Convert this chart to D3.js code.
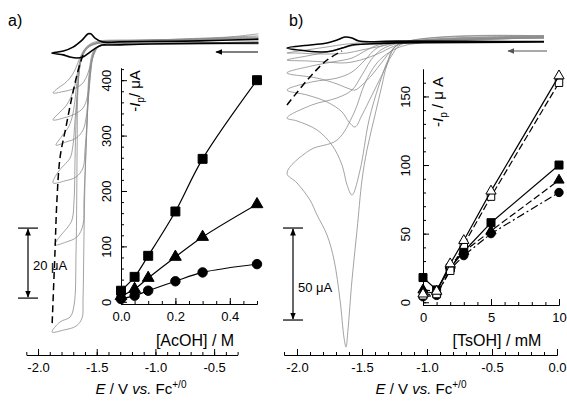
<!DOCTYPE html>
<html>
<head>
<meta charset="utf-8" />
<title>CV of catalyst with AcOH and TsOH</title>
<script src="https://cdnjs.cloudflare.com/ajax/libs/d3/7.8.5/d3.min.js"></script>
<style>
body { margin: 0; padding: 0; background: #fff; }
svg text { font-family: "Liberation Sans", Arial, sans-serif; fill: #000; }
</style>
</head>
<body>
<svg id="chart" width="567" height="414"></svg>
<script>
// E in V vs Fc+/0, I in uA (cathodic = negative, drawn downwards)

// ---- panel a, cyclic voltammograms (blank + AcOH additions)
var aBlankFwd = [[-0.123,0.3],[-1.042,0],[-1.385,-0.3],[-1.452,-0.3],[-1.496,-0.9],[-1.557,-2.3],[-1.618,-3.7],[-1.667,-4],[-1.728,-3.7],[-1.784,-3.1],[-1.883,-2.6]];
var aBlankRev = [[-1.883,-2.6],[-1.784,-2],[-1.702,-0.9],[-1.625,1.1],[-1.573,2.9],[-1.551,2.9],[-1.515,1.7],[-1.452,0.6],[-1.302,0.6],[-0.621,0.9],[-0.123,1.4]];

var aAcidFwd = [
  [[-0.123,0.6],[-0.621,0.3],[-1.302,0],[-1.446,-0.3],[-1.489,-0.9],[-1.515,-2.3],[-1.54,-4.6],[-1.566,-7.4],[-1.591,-9.7],[-1.634,-11.7],[-1.702,-12.9],[-1.787,-13.6],[-1.872,-14]],
  [[-0.123,0.6],[-0.621,0.3],[-1.302,0],[-1.446,-0.3],[-1.498,-1.1],[-1.531,-3.4],[-1.549,-7.4],[-1.566,-11.7],[-1.582,-15.4],[-1.617,-18.3],[-1.685,-20],[-1.778,-21.1],[-1.872,-21.7]],
  [[-0.123,0.3],[-1.302,0],[-1.446,-0.3],[-1.506,-1.4],[-1.54,-4.6],[-1.557,-10.3],[-1.574,-16],[-1.591,-21.1],[-1.617,-24.6],[-1.676,-26.9],[-1.762,-28],[-1.847,-28.9]],
  [[-0.123,0.3],[-1.302,0],[-1.455,-0.3],[-1.515,-1.7],[-1.549,-6],[-1.566,-13.1],[-1.582,-21.7],[-1.6,-30.3],[-1.617,-35.4],[-1.676,-38],[-1.77,-39.1],[-1.872,-39.7]],
  [[-0.123,0.3],[-1.302,0],[-1.464,-0.3],[-1.523,-2.3],[-1.557,-7.4],[-1.574,-16],[-1.591,-30.3],[-1.609,-44.6],[-1.617,-51.7],[-1.667,-55.1],[-1.762,-56.6],[-1.856,-57.4]],
  [[-0.123,0],[-1.302,0],[-1.471,-0.3],[-1.531,-2.3],[-1.566,-8.9],[-1.582,-21.7],[-1.6,-38.9],[-1.609,-56],[-1.617,-73.1],[-1.625,-78.3],[-1.676,-80.6],[-1.778,-81.7],[-1.881,-82.3]]
];
var aAcidRev = [
  [[-1.872,-14],[-1.83,-12.6],[-1.778,-11.4],[-1.727,-9.7],[-1.685,-7.4],[-1.651,-4.6],[-1.609,-1.7],[-1.557,0],[-1.471,0.9],[-1.217,1.1],[-0.62,1.4],[-0.364,2.0],[-0.123,2.9]],
  [[-1.872,-21.7],[-1.821,-19.7],[-1.762,-17.7],[-1.719,-15.1],[-1.685,-11.7],[-1.66,-7.4],[-1.625,-3.1],[-1.574,-0.6],[-1.471,0.6],[-1.046,1.1],[-0.123,2.3]],
  [[-1.847,-28.9],[-1.796,-26.3],[-1.745,-24],[-1.711,-21.1],[-1.685,-16],[-1.667,-10.3],[-1.642,-5.1],[-1.591,-1.1],[-1.471,0.6],[-1.046,1.1],[-0.123,2]],
  [[-1.872,-39.7],[-1.83,-36.6],[-1.778,-34.6],[-1.727,-32.6],[-1.702,-28.9],[-1.685,-21.7],[-1.667,-14.6],[-1.651,-8],[-1.609,-2.3],[-1.515,0],[-1.046,0.9],[-0.123,1.7]],
  [[-1.856,-57.4],[-1.812,-54.9],[-1.753,-52.6],[-1.711,-50.3],[-1.693,-44.6],[-1.685,-33.1],[-1.676,-21.7],[-1.66,-11.7],[-1.625,-4],[-1.557,-0.6],[-1.302,0.6],[-0.123,1.7]],
  [[-1.881,-82.3],[-1.812,-79.4],[-1.727,-78],[-1.693,-74.6],[-1.676,-58.9],[-1.667,-30.3],[-1.66,-13.1],[-1.634,-4.6],[-1.574,-0.9],[-1.387,0.6],[-0.123,1.1]]
];
var aPeakTrace = [[-1.618,-3.1],[-1.662,-8],[-1.711,-15.1],[-1.762,-23.7],[-1.812,-32.3],[-1.839,-44.6],[-1.856,-59.7],[-1.881,-80.9]];

// ---- panel b, cyclic voltammograms (blank + TsOH additions)
var bBlankFwd = [[-0.1,0],[-1.231,-0.5],[-1.462,-1.1],[-1.577,-1.6],[-1.654,-3.3],[-1.731,-4.9],[-1.808,-5.4],[-1.923,-4.9],[-2.077,-3.3]];
var bBlankRev = [[-2.077,-3.3],[-1.9,-1.6],[-1.769,-0.5],[-1.692,1.1],[-1.631,2.7],[-1.577,2.2],[-1.523,0.5],[-1.231,0.5],[-0.1,0.2]];

var bAcidFwd = [
  [[-0.1,2.2],[-1.154,0],[-1.269,-1.1],[-1.385,-2.7],[-1.5,-4.3],[-1.615,-6],[-1.731,-6.5],[-1.846,-6.5],[-2.0,-6],[-2.077,-6]],
  [[-0.1,2.2],[-1.154,-0.5],[-1.269,-2.7],[-1.346,-5.4],[-1.462,-8.7],[-1.577,-10.9],[-1.654,-11.4],[-1.769,-10.9],[-1.923,-10.3],[-2.077,-9.8]],
  [[-0.1,2.2],[-1.192,-0.5],[-1.269,-4.3],[-1.346,-10.9],[-1.423,-17.9],[-1.5,-23.4],[-1.554,-26.1],[-1.615,-25],[-1.692,-22.8],[-1.846,-19.6],[-2.077,-16.8]],
  [[-0.1,2.7],[-1.192,-1.1],[-1.269,-7.1],[-1.346,-17.9],[-1.423,-28.8],[-1.5,-39.7],[-1.554,-46.2],[-1.6,-43.5],[-1.654,-38],[-1.769,-32.6],[-1.923,-28.8],[-2.077,-26.1]],
  [[-0.1,3.3],[-1.215,-1.1],[-1.292,-8.7],[-1.369,-23.4],[-1.446,-42.4],[-1.515,-69.6],[-1.577,-83.2],[-1.615,-77.7],[-1.654,-66.8],[-1.731,-56],[-1.846,-47.8],[-2.0,-42.9],[-2.077,-41.3]],
  [[-0.1,3.3],[-1.231,-1.6],[-1.308,-12.5],[-1.346,-23.4],[-1.4,-39.7],[-1.462,-58.7],[-1.5,-75],[-1.538,-102.2],[-1.577,-129.3],[-1.608,-156.5],[-1.623,-165.8],[-1.638,-160.9],[-1.669,-140.2],[-1.715,-118.5],[-1.769,-104.9],[-1.846,-94],[-1.9,-85.9],[-2.0,-76.6],[-2.077,-71.2]]
];
var bAcidRev = [
  [[-2.077,-6],[-1.923,-4.3],[-1.769,-2.7],[-1.615,-1.1],[-1.385,0],[-0.846,0.5],[-0.1,2.7]],
  [[-2.077,-9.8],[-1.923,-7.6],[-1.769,-5.4],[-1.654,-3.3],[-1.538,-1.6],[-1.308,0],[-0.1,2.7]],
  [[-2.077,-16.8],[-1.885,-13],[-1.731,-10.9],[-1.577,-8.7],[-1.462,-4.3],[-1.346,-1.1],[-0.1,2.2]],
  [[-2.077,-26.1],[-1.885,-21.7],[-1.692,-19.6],[-1.577,-16.3],[-1.477,-9.8],[-1.385,-3.3],[-1.231,-0.5],[-0.1,2.7]],
  [[-2.077,-41.3],[-1.885,-34.2],[-1.692,-30.4],[-1.577,-26.1],[-1.5,-17.9],[-1.4,-7.1],[-1.269,-1.6],[-0.1,3.3]],
  [[-2.077,-71.2],[-1.9,-58.7],[-1.692,-53.3],[-1.562,-38.6],[-1.477,-22.3],[-1.385,-11.4],[-1.285,-5.4],[-1.154,-1.6],[-0.1,3.3]]
];
var bPeakTrace = [[-2.077,-34.2],[-1.9,-19],[-1.769,-9.8],[-1.654,-4.9]];

// ---- insets: peak currents
var acoh = [0, 0.05, 0.1, 0.2, 0.3, 0.5];
var ipSquareA = [20, 45, 83, 163, 258, 400];
var ipTriangleA = [10, 23, 43, 81, 117, 176];
var ipCircleA = [5, 11, 20, 37, 53, 68];

var tsoh = [0, 1, 2, 3, 5, 10];
var ipSquareB = [18, 9, 25, 37, 58, 100];
var ipTriangleB = [9, 8, 27, 37, 52, 89];
var ipCircleB = [4, 5, 24, 34, 50, 80];
var ipOpenTriB = [6, 8, 28, 45, 81, 165];
var ipOpenSqB = [5, 6, 23, 42, 77, 160];

var eTicksA = [-2.0, -1.5, -1.0, -0.5];
var eTicksB = [-2.0, -1.5, -1.0, -0.5, 0.0];
var acohTicks = [0, 0.2, 0.4];
var tsohTicks = [0, 5, 10];
var ipTicksA = [0, 100, 200, 300, 400];
var ipTicksB = [0, 50, 100, 150];

var svg = d3.select("#chart");

// scales
var xA = d3.scaleLinear().domain([-2.1, -0.3]).range([26.3, 237.6]);
var xB = d3.scaleLinear().domain([-2.1, 0.0]).range([284, 557]);
var yA = d3.scaleLinear().domain([0, -20]).range([44, 114]);   // 20 uA = 70 px
var yB = d3.scaleLinear().domain([0, -50]).range([42, 134]);   // 50 uA = 92 px

var xIa = d3.scaleLinear().domain([0, 0.5]).range([121, 257]);
var yIa = d3.scaleLinear().domain([-4, 422]).range([304, 68]);
var xIb = d3.scaleLinear().domain([0, 10]).range([423, 559]);
var yIb = d3.scaleLinear().domain([-2, 170]).range([305, 69]);

function cvPath(xs, ys) {
  return d3.line().x(d => xs(d[0])).y(d => ys(d[1])).curve(d3.curveCatmullRom.alpha(0.5));
}

function drawCVs(xs, ys, fwd, rev, blankF, blankR, peaks) {
  var ln = cvPath(xs, ys);
  var g = svg.append("g");
  fwd.forEach(function(f, i) {
    g.append("path").attr("d", ln(f.concat(rev[i].slice(1))))
      .attr("fill", "none").attr("stroke", "#8c8c8c").attr("stroke-width", 0.8);
  });
  g.append("path").attr("d", ln(blankF.concat(blankR.slice(1))))
    .attr("fill", "none").attr("stroke", "#000").attr("stroke-width", 1.6);
  g.append("path").attr("d", ln(peaks))
    .attr("fill", "none").attr("stroke", "#000").attr("stroke-width", 1.5)
    .attr("stroke-dasharray", "7,4");
}

drawCVs(xA, yA, aAcidFwd, aAcidRev, aBlankFwd, aBlankRev, aPeakTrace);
drawCVs(xB, yB, bAcidFwd, bAcidRev, bBlankFwd, bBlankRev, bPeakTrace);

// main potential axes
function potentialAxis(xs, major, y0, titleX) {
  var lo = xs.domain()[0], hi = xs.domain()[1];
  var minor = d3.range(Math.round(lo * 10), Math.round(hi * 10) + 1).map(d => d / 10);
  svg.append("g").attr("transform", "translate(0," + y0 + ")")
    .call(d3.axisBottom(xs).tickValues(minor).tickSizeInner(-3).tickSizeOuter(0).tickFormat(""));
  var ax = svg.append("g").attr("transform", "translate(0," + y0 + ")")
    .call(d3.axisBottom(xs).tickValues(major).tickSizeInner(-6).tickSizeOuter(0).tickPadding(8)
      .tickFormat(d => d.toFixed(1)));
  ax.selectAll("text").style("font-size", "13px");
  var t = svg.append("text").attr("x", titleX).attr("y", 394)
    .attr("text-anchor", "middle").style("font-size", "15px");
  t.append("tspan").style("font-style", "italic").text("E");
  t.append("tspan").text(" / V ");
  t.append("tspan").style("font-style", "italic").text("vs.");
  t.append("tspan").text(" Fc");
  t.append("tspan").attr("dy", -6).style("font-size", "10px").text("+/0");
}
potentialAxis(xA, eTicksA, 355, 141);
potentialAxis(xB, eTicksB, 355, 421);

// inset axes
function insetAxes(xs, ys, xMajor, xMinor, yMajor, yMinor, fmt, xTitle, yPad, yLabelX, yLabelY, slash) {
  var y0 = ys.range()[0], x0 = xs.range()[0];
  svg.append("g").attr("transform", "translate(0," + y0 + ")")
    .call(d3.axisBottom(xs).tickValues(xMinor).tickSizeInner(-3).tickSizeOuter(0).tickFormat(""));
  var ax = svg.append("g").attr("transform", "translate(0," + y0 + ")")
    .call(d3.axisBottom(xs).tickValues(xMajor).tickSizeInner(-6).tickSizeOuter(0).tickPadding(8).tickFormat(fmt));
  ax.selectAll("text").style("font-size", "13px");
  svg.append("g").attr("transform", "translate(" + x0 + ",0)")
    .call(d3.axisLeft(ys).tickValues(yMinor).tickSizeInner(-3).tickSizeOuter(0).tickFormat(""));
  var ay = svg.append("g").attr("transform", "translate(" + x0 + ",0)")
    .call(d3.axisLeft(ys).tickValues(yMajor).tickSizeInner(-6).tickSizeOuter(0));
  ay.selectAll("text").attr("transform", "rotate(-90)").attr("x", 0).attr("y", -yPad)
    .attr("dy", 0).attr("text-anchor", "middle").style("font-size", "13px");
  svg.append("text").attr("x", (xs.range()[0] + xs.range()[1]) / 2 + 6).attr("y", 346)
    .attr("text-anchor", "middle").style("font-size", "16px").text(xTitle);
  var t = svg.append("text").attr("transform", "translate(" + yLabelX + "," + yLabelY + ") rotate(-90)")
    .attr("text-anchor", "middle").style("font-size", "15px");
  t.append("tspan").text("-");
  t.append("tspan").style("font-style", "italic").text("I");
  t.append("tspan").attr("dy", 4).style("font-size", "10px").text("p");
  t.append("tspan").attr("dy", -4).text(slash);
}
insetAxes(xIa, yIa, acohTicks, d3.range(0, 11).map(d => d * 0.05), ipTicksA, d3.range(0, 22).map(d => d * 20),
  d => d.toFixed(1), "[AcOH] / M", 10, 140, 91, "/ \u03bcA");
insetAxes(xIb, yIb, tsohTicks, d3.range(0, 11), ipTicksB, d3.range(0, 17).map(d => d * 10),
  d => d, "[TsOH] / mM", 13, 443, 102, " / \u03bc A");

// inset series
function series(xs, ys, xv, yv, shape, size, open, dash, smooth) {
  var pts = xv.map((x, i) => [x, yv[i]]);
  var ln = d3.line().x(d => xs(d[0])).y(d => ys(d[1]))
    .curve(smooth ? d3.curveCatmullRom.alpha(0.5) : d3.curveLinear);
  svg.append("path").attr("d", ln(pts)).attr("fill", "none").attr("stroke", "#000")
    .attr("stroke-width", 1.2).attr("stroke-dasharray", dash);
  svg.append("g").selectAll("path").data(pts).join("path")
    .attr("transform", d => "translate(" + xs(d[0]) + "," + ys(d[1]) + ")")
    .attr("d", d3.symbol().type(shape).size(size))
    .attr("fill", open ? "#fff" : "#000").attr("stroke", "#000").attr("stroke-width", 1);
}
series(xIa, yIa, acoh, ipCircleA, d3.symbolCircle, 70, false, null, true);
series(xIa, yIa, acoh, ipTriangleA, d3.symbolTriangle, 60, false, null, true);
series(xIa, yIa, acoh, ipSquareA, d3.symbolSquare, 80, false, null, true);

series(xIb, yIb, tsoh, ipCircleB, d3.symbolCircle, 55, false, "8,3,2,3", false);
series(xIb, yIb, tsoh, ipTriangleB, d3.symbolTriangle, 45, false, "7,3", false);
series(xIb, yIb, tsoh, ipSquareB, d3.symbolSquare, 64, false, null, false);
series(xIb, yIb, tsoh, ipOpenSqB, d3.symbolSquare, 56, true, "7,3", false);
series(xIb, yIb, tsoh, ipOpenTriB, d3.symbolTriangle, 45, true, null, false);

// scale bars, scan-direction arrows, panel letters
svg.append("defs").append("marker").attr("id", "ah").attr("viewBox", "0 0 10 10")
  .attr("refX", 9).attr("refY", 5).attr("markerWidth", 6).attr("markerHeight", 6)
  .attr("orient", "auto-start-reverse")
  .append("path").attr("d", "M0,1 L10,5 L0,9 Z").attr("fill", "context-stroke");

function scaleBar(x, yTop, yBot, label, lx, ly) {
  var g = svg.append("g").attr("stroke", "#000").attr("stroke-width", 1.2);
  g.append("line").attr("x1", x - 10).attr("x2", x + 10).attr("y1", yTop).attr("y2", yTop);
  g.append("line").attr("x1", x - 10).attr("x2", x + 10).attr("y1", yBot).attr("y2", yBot);
  g.append("line").attr("x1", x).attr("x2", x).attr("y1", yTop + 1).attr("y2", yBot - 1)
    .attr("marker-start", "url(#ah)").attr("marker-end", "url(#ah)");
  svg.append("text").attr("x", lx).attr("y", ly).style("font-size", "13px").text(label);
}
scaleBar(28, yA(-52.6), yA(-72.6), "20 \u03bcA", 33, 270);
scaleBar(293, yB(-101.1), yB(-151.1), "50 \u03bcA", 298, 292);

svg.append("line").attr("x1", 258).attr("x2", 216).attr("y1", 52).attr("y2", 52)
  .attr("stroke", "#000").attr("stroke-width", 1.2).attr("marker-end", "url(#ah)");
svg.append("line").attr("x1", 547).attr("x2", 508).attr("y1", 51).attr("y2", 51)
  .attr("stroke", "#555").attr("stroke-width", 1.2).attr("marker-end", "url(#ah)");

svg.append("text").attr("x", 8).attr("y", 26).style("font-size", "16px").text("a)");
svg.append("text").attr("x", 289).attr("y", 26).style("font-size", "16px").text("b)");
</script>
</body>
</html>
